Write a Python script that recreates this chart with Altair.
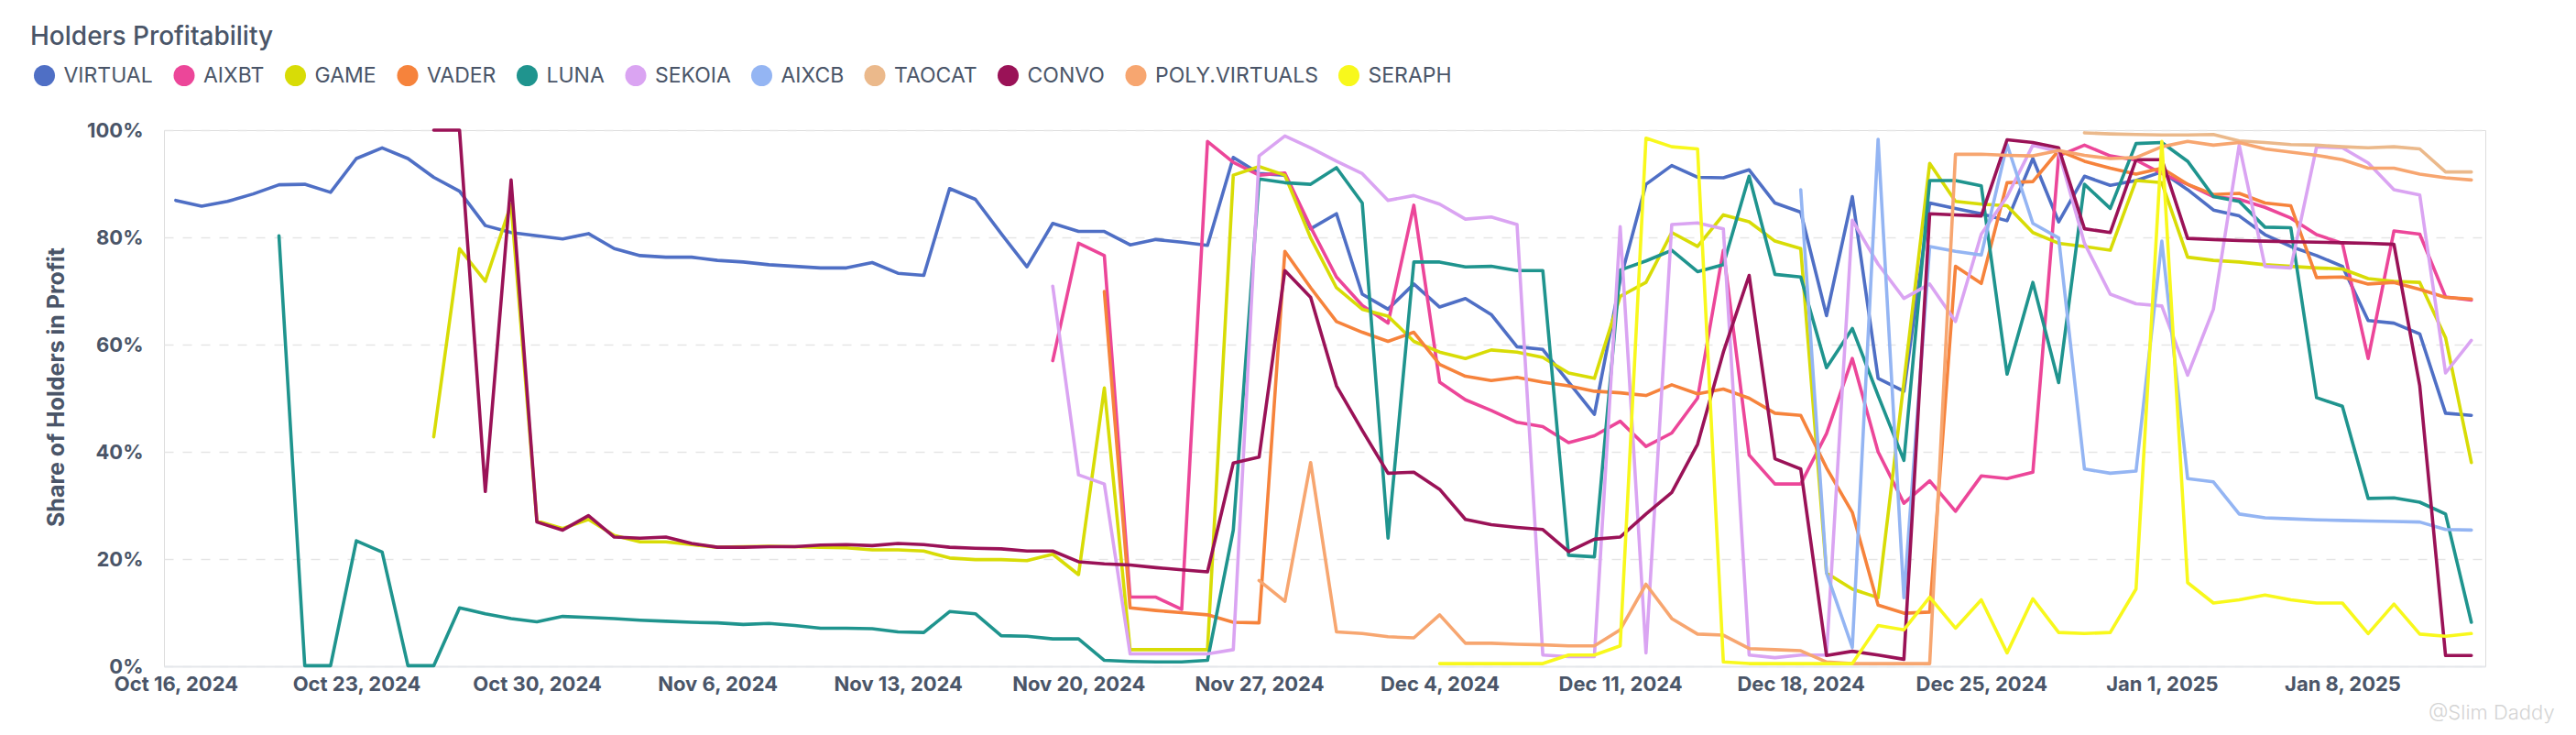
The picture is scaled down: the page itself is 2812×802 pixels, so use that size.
import altair as alt
import pandas as pd

TITLE = "Holders Profitability"
Y_TITLE = "Share of Holders in Profit"
WATERMARK = "@Slim Daddy"
START_DATE = "2024-10-16"

SERIES = ["VIRTUAL", "AIXBT", "GAME", "VADER", "LUNA", "SEKOIA", "AIXCB",
          "TAOCAT", "CONVO", "POLY.VIRTUALS", "SERAPH"]
COLORS = ["#4f6fc5", "#ec4699", "#d8dc06", "#f6833c", "#1f948e", "#daa4f2",
          "#94b5f3", "#ebb98b", "#9a1257", "#f7a670", "#f8f81c"]

# first day index (days after START_DATE) of each series
STARTS = {"VIRTUAL": 0, "AIXBT": 34, "GAME": 10, "VADER": 36, "LUNA": 4,
          "SEKOIA": 34, "AIXCB": 63, "TAOCAT": 74, "CONVO": 10,
          "POLY.VIRTUALS": 42, "SERAPH": 49}

VIRTUAL = [86.9, 85.8, 86.7, 88.1, 89.8, 89.9, 88.4, 94.7, 96.7, 94.7,
           91.2, 88.6, 82.2, 80.9, 80.3, 79.7, 80.7, 77.9, 76.6, 76.3,
           76.3, 75.7, 75.4, 74.9, 74.6, 74.3, 74.3, 75.3, 73.3, 72.9,
           89.1, 87.1, 80.7, 74.5, 82.6, 81.1, 81.1, 78.6, 79.6, 79.1,
           78.5, 94.9, 91.9, 91.6, 81.6, 84.4, 69.4, 66.6, 71.3, 67.0,
           68.6, 65.6, 59.6, 59.1, 53.0, 47.0, 72.0, 89.9, 93.4, 91.2,
           91.1, 92.6, 86.4, 84.7, 65.4, 87.6, 53.7, 51.3, 86.4, 85.4,
           84.4, 83.1, 94.7, 82.9, 91.4, 89.7, 90.6, 92.2, 88.9, 85.1,
           84.0, 80.5, 78.3, 76.6, 74.6, 64.5, 64.0, 62.0, 47.2, 46.8]

AIXBT = [57.0, 78.9, 76.6, 12.9, 12.9, 10.6,
         97.9, 94.0, 91.6, 92.0, 81.9, 72.6, 67.3, 64.0, 86.0, 53.0,
         49.7, 47.7, 45.5, 44.7, 41.7, 43.0, 45.7, 41.0, 43.5, 50.0,
         77.6, 39.4, 34.0, 34.0, 43.4, 57.4, 40.0, 30.4, 34.6, 28.9,
         35.5, 35.0, 36.2, 95.2, 97.2, 95.2, 94.4, 91.9, 89.9, 87.6,
         87.1, 85.6, 83.6, 80.5, 78.9, 57.4, 81.2, 80.6, 68.9, 68.3]

GAME = [42.8, 77.9, 71.8, 86.2, 27.1, 25.7, 27.4, 24.4, 23.2, 23.2,
        22.7, 22.2, 22.3, 22.4, 22.3, 22.2, 22.1, 21.7, 21.7, 21.5,
        20.2, 19.9, 19.9, 19.7, 20.9, 17.1, 51.9, 3.1, 3.1, 3.1,
        3.1, 91.6, 93.2, 91.6, 79.9, 70.6, 66.6, 65.3, 60.6, 58.6,
        57.4, 59.0, 58.6, 57.6, 54.7, 53.7, 69.0, 71.6, 80.9, 78.3,
        84.2, 82.9, 79.3, 77.9, 17.4, 14.4, 12.8, 53.0, 93.8, 86.7,
        86.2, 85.9, 80.9, 78.9, 78.3, 77.6, 90.6, 90.2, 76.3, 75.7,
        75.4, 74.9, 74.6, 74.3, 74.1, 72.3, 71.8, 71.6, 61.3, 38.0]

VADER = [69.9, 10.9, 10.4, 10.0,
         9.6, 8.2, 8.1, 77.4, 70.6, 64.3, 62.3, 60.6, 62.3, 56.3,
         54.1, 53.3, 53.9, 53.0, 52.3, 51.3, 51.0, 50.5, 52.5, 50.8,
         51.7, 50.0, 47.2, 46.8, 37.0, 28.7, 11.4, 9.9, 10.1, 74.6,
         71.4, 90.2, 90.4, 96.2, 94.2, 92.9, 91.8, 92.9, 89.9, 88.0,
         88.2, 86.4, 85.9, 72.5, 72.6, 71.3, 71.6, 70.3, 68.8, 68.5]

LUNA = [80.3, 0.1, 0.1, 23.4, 21.3, 0.1,
        0.1, 10.9, 9.8, 8.9, 8.3, 9.3, 9.1, 8.9, 8.6, 8.4,
        8.2, 8.1, 7.8, 8.0, 7.6, 7.1, 7.1, 7.0, 6.4, 6.3,
        10.2, 9.8, 5.7, 5.6, 5.1, 5.1, 1.1, 0.9, 0.8, 0.8,
        1.1, 25.4, 90.9, 90.2, 89.9, 93.0, 86.4, 23.9, 75.4, 75.4,
        74.5, 74.6, 73.8, 73.8, 20.7, 20.4, 73.9, 75.6, 77.6, 73.6,
        74.9, 91.4, 73.1, 72.6, 55.7, 63.0, 50.5, 38.4, 90.6, 90.6,
        89.6, 54.5, 71.6, 52.9, 89.9, 85.4, 97.5, 97.7, 94.2, 87.6,
        86.7, 81.9, 81.8, 50.1, 48.5, 31.3, 31.4, 30.6, 28.4, 8.2]

SEKOIA = [70.9, 35.7, 34.0, 2.3, 2.3, 2.3,
          2.3, 3.1, 95.2, 98.9, 96.7, 94.2, 91.9, 86.9, 87.8, 86.2,
          83.4, 83.8, 82.4, 2.1, 1.8, 1.8, 82.0, 2.5, 82.4, 82.7,
          81.6, 2.1, 1.6, 2.1, 2.1, 83.2, 75.0, 68.6, 71.3, 64.3,
          80.6, 87.6, 97.2, 96.0, 78.9, 69.4, 67.6, 67.2, 54.3, 66.6,
          97.2, 74.6, 74.3, 96.9, 96.7, 93.9, 88.9, 87.9, 54.7, 60.8]

AIXCB = [88.9, 17.4, 3.5, 98.3, 12.8, 78.3, 77.4,
         76.7, 97.3, 82.6, 79.9, 36.8, 36.0, 36.4, 79.3, 35.0, 34.4,
         28.4, 27.7, 27.5, 27.3, 27.2, 27.1, 27.0, 26.9, 25.5, 25.4]

TAOCAT = [99.5, 99.3, 99.2, 99.1, 99.1, 99.2,
          98.0, 97.7, 97.3, 97.2, 96.9, 96.7, 96.9, 96.5, 92.2, 92.2]

CONVO = [100.0, 100.0, 32.6, 90.7, 26.9, 25.4, 28.1, 24.1, 23.9, 24.1,
         22.9, 22.2, 22.2, 22.3, 22.3, 22.6, 22.7, 22.5, 22.9, 22.7,
         22.2, 22.0, 21.9, 21.5, 21.5, 19.5, 19.1, 18.9, 18.4, 18.0,
         17.6, 37.9, 39.0, 73.8, 68.8, 52.3, 44.0, 36.0, 36.2, 33.0,
         27.4, 26.4, 25.9, 25.5, 21.4, 23.7, 24.1, 28.4, 32.4, 41.4,
         58.6, 72.9, 38.7, 36.8, 2.0, 2.8, 2.1, 1.3, 84.4, 84.2,
         84.0, 98.2, 97.7, 96.7, 81.6, 80.9, 94.5, 94.5, 79.8, 79.6,
         79.4, 79.3, 79.2, 79.1, 79.0, 78.9, 78.7, 52.3, 2.0, 2.0]

POLY_VIRTUALS = [16.0, 12.1, 38.0, 6.4, 6.1, 5.5, 5.3, 9.6,
                 4.3, 4.3, 4.1, 4.0, 3.8, 3.8, 6.8, 15.3, 8.9, 6.0,
                 5.8, 3.3, 3.1, 2.9, 0.8, 0.5, 0.5, 0.5, 0.5, 95.5,
                 95.5, 95.3, 95.2, 96.2, 95.3, 94.7, 94.9, 96.9, 97.9, 97.2,
                 97.7, 96.5, 95.9, 95.3, 94.5, 92.9, 92.9, 91.8, 91.1, 90.7]

SERAPH = [0.5,
          0.5, 0.5, 0.5, 0.5, 2.1, 2.1, 3.8, 98.5, 96.9, 96.5,
          0.8, 0.5, 0.5, 0.5, 0.5, 0.5, 7.6, 6.8, 12.9, 7.1,
          12.4, 2.5, 12.6, 6.3, 6.1, 6.3, 14.4, 97.9, 15.6, 11.8,
          12.4, 13.3, 12.4, 11.8, 11.8, 6.1, 11.6, 6.0, 5.6, 6.1]

VALUES = {"VIRTUAL": VIRTUAL, "AIXBT": AIXBT, "GAME": GAME, "VADER": VADER,
          "LUNA": LUNA, "SEKOIA": SEKOIA, "AIXCB": AIXCB, "TAOCAT": TAOCAT,
          "CONVO": CONVO, "POLY.VIRTUALS": POLY_VIRTUALS, "SERAPH": SERAPH}

TICK_DATES = [(2024, 10, 16), (2024, 10, 23), (2024, 10, 30), (2024, 11, 6),
              (2024, 11, 13), (2024, 11, 20), (2024, 11, 27), (2024, 12, 4),
              (2024, 12, 11), (2024, 12, 18), (2024, 12, 25), (2025, 1, 1),
              (2025, 1, 8)]
Y_TICKS = [0, 20, 40, 60, 80, 100]

base = pd.Timestamp(START_DATE)
rows = []
for name in SERIES:
    for i, v in enumerate(VALUES[name]):
        d = base + pd.Timedelta(days=STARTS[name] + i)
        rows.append({"date": d.strftime("%Y-%m-%dT00:00:00"), "series": name, "value": v})
df = pd.DataFrame(rows)

FONT = "Inter"
TXT = "#4a5568"

x_enc = alt.X(
    "date:T",
    scale=alt.Scale(domain=[alt.DateTime(year=2024, month=10, date=15, hours=13),
                            alt.DateTime(year=2025, month=1, date=13, hours=13)]),
    axis=alt.Axis(values=[alt.DateTime(year=y, month=m, date=d) for y, m, d in TICK_DATES],
                  format="%b %-d, %Y", labelFontSize=22, labelFontWeight="bold",
                  labelColor=TXT, labelFont=FONT, labelFlush=False, labelOverlap=False,
                  labelPadding=9, ticks=False, tickSize=0, grid=False, domain=True,
                  domainColor="#e5e7eb", domainWidth=2, title=None),
)
y_enc = alt.Y(
    "value:Q",
    scale=alt.Scale(domain=[0, 100], nice=False),
    axis=alt.Axis(values=Y_TICKS, labelExpr="datum.value + '%'", labelFontSize=22,
                  labelFontWeight="bold", labelColor=TXT, labelFont=FONT, labelPadding=23,
                  ticks=False, tickSize=0, domain=False, grid=True, gridDash=[10, 10],
                  gridColor="#e5e5e5", gridWidth=1.5, title=Y_TITLE, titleFontSize=25,
                  titleFontWeight="bold", titleColor=TXT, titleFont=FONT, titlePadding=20,
                  titleY=280),
)

# line colours: same mapping, listed in reverse so this (legend-less) scale is
# not merged with the legend scale below
stroke_scale = alt.Scale(domain=SERIES[::-1], range=COLORS[::-1])

layers = []
for name in SERIES:
    layers.append(
        alt.Chart(df)
        .transform_filter(alt.datum.series == name)
        .mark_line(strokeWidth=3.6, strokeJoin="round", strokeCap="round")
        .encode(x=x_enc, y=y_enc,
                stroke=alt.Stroke("series:N", scale=stroke_scale, legend=None))
    )

# legend only: an empty point layer whose fill scale carries the series colours
legend_layer = (
    alt.Chart(df)
    .transform_filter("false")
    .mark_point(filled=True)
    .encode(x=x_enc, y=y_enc,
            fill=alt.Fill("series:N", scale=alt.Scale(domain=SERIES, range=COLORS),
                          legend=alt.Legend(orient="none", legendX=-142.5, legendY=-71.5,
                                            direction="horizontal", columns=11, title=None,
                                            symbolType="circle", symbolSize=530,
                                            symbolStrokeWidth=0, symbolOpacity=1,
                                            labelFontSize=23, labelFont=FONT,
                                            labelColor=TXT, labelOffset=9, labelLimit=0,
                                            columnPadding=21.5, padding=0)))
)

title_layer = (
    alt.Chart(pd.DataFrame({"t": [TITLE]}))
    .mark_text(align="left", baseline="alphabetic", fontSize=28, font=FONT,
               color=TXT, fontWeight=500)
    .encode(x=alt.value(-146), y=alt.value(-93), text="t:N")
)

watermark = (
    alt.Chart(pd.DataFrame({"t": [WATERMARK]}))
    .mark_text(align="left", baseline="middle", fontSize=22, font=FONT,
               color="#d4d4d4", fontWeight=300)
    .encode(x=alt.value(2472), y=alt.value(636), text="t:N")
)

chart = (
    alt.layer(*layers, legend_layer, title_layer, watermark)
    .properties(
        width=2534, height=585,
        padding={"left": 171, "top": 134, "right": 91, "bottom": 66},
        autosize=alt.AutoSizeParams(type="none"),
    )
    .configure_view(stroke=None)
    .configure(font=FONT)
)

chart.save("out.html", embed_options={"renderer": "svg", "actions": False})
